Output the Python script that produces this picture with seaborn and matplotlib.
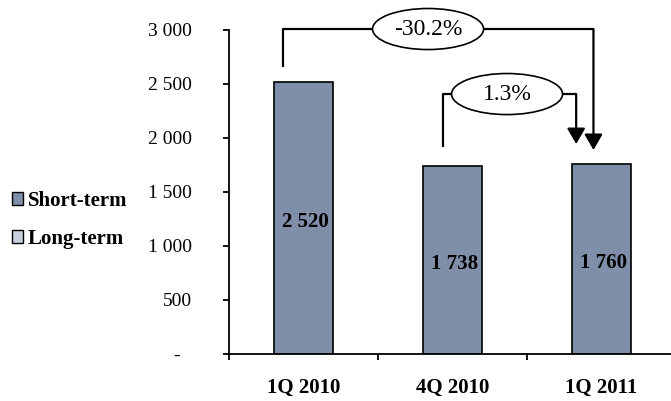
import matplotlib
matplotlib.use("Agg")
import matplotlib.pyplot as plt
import matplotlib.transforms as mtransforms
from matplotlib.patches import Ellipse, Patch
import seaborn as sns
import pandas as pd

# Data
quarters = ["1Q 2010", "4Q 2010", "1Q 2011"]
short_term = [2520, 1738, 1760]
series_names = ["Short-term", "Long-term"]
y_ticks = [0, 500, 1000, 1500, 2000, 2500, 3000]

short_color = "#7f8fa9"
long_color = "#c8cfdd"

sns.set_style("white")
plt.rcParams["font.family"] = ["Liberation Serif", "DejaVu Serif"]
plt.rcParams["text.color"] = "black"
plt.rcParams["xtick.color"] = "black"
plt.rcParams["ytick.color"] = "black"
plt.rcParams["xtick.labelcolor"] = "black"
plt.rcParams["ytick.labelcolor"] = "black"


def fmt(v):
    return "-" if v == 0 else f"{v:,}".replace(",", " ")


df = pd.DataFrame({"quarter": quarters, "value": short_term})

fig = plt.figure(figsize=(6.71, 4.01), dpi=100)
ax = fig.add_axes([229 / 671, 47 / 401, 447 / 671, 324 / 401])

sns.barplot(data=df, x="quarter", y="value", color=short_color, saturation=1,
            edgecolor="black", linewidth=1.2, width=0.4, ax=ax, zorder=2)

ax.set_xlim(-0.5, 2.5)
ax.set_ylim(0, 3000)
ax.set_xlabel("")
ax.set_ylabel("")

for side in ("top", "right"):
    ax.spines[side].set_visible(False)
for side in ("left", "bottom"):
    ax.spines[side].set_color("black")
    ax.spines[side].set_linewidth(1.3)

# y axis
ax.set_yticks(y_ticks)
ax.set_yticklabels([fmt(v) for v in y_ticks], fontsize=14, color="black")
ax.tick_params(axis="y", left=True, direction="out", length=4, width=1.3,
               color="black", pad=23)
zero_lbl = ax.get_yticklabels()[0]
zero_lbl.set_transform(zero_lbl.get_transform() +
                       mtransforms.ScaledTranslation(-12 / 100, 0, fig.dpi_scale_trans))

# x axis: labels at categories, ticks at category boundaries
ax.set_xticks(range(len(quarters)))
ax.set_xticklabels(quarters, fontsize=15, fontweight="bold", color="black")
ax.tick_params(axis="x", which="major", length=0, pad=17)
ax.set_xticks([-0.5, 0.5, 1.5, 2.5], minor=True)
ax.tick_params(axis="x", which="minor", bottom=True, direction="out", length=4,
               width=1.3, color="black")

# value labels inside bars
for i, v in enumerate(short_term):
    ax.annotate(fmt(v), xy=(i, v / 2), xytext=(1.5, -3), textcoords="offset points",
                ha="center", va="center", fontsize=15, fontweight="bold",
                color="black", zorder=3)


def change_bracket(i_from, i_to, dx_from, dx_to, y_start, y_line, y_tip, label,
                   ell_x):
    x0 = i_from + dx_from
    x1 = i_to + dx_to
    ax.plot([x0, x0, x1], [y_start, y_line, y_line], color="black", lw=1.6,
            clip_on=False, zorder=4, solid_capstyle="butt")
    ax.annotate("", xy=(x1, y_tip), xytext=(x1, y_line),
                arrowprops=dict(arrowstyle="-|>,head_length=0.95,head_width=0.55",
                                lw=1.6, color="black", shrinkA=0, shrinkB=0,
                                mutation_scale=10),
                annotation_clip=False, zorder=4)
    ell = Ellipse((ell_x, y_line), width=0.745, height=380, facecolor="white",
                  edgecolor="black", lw=1.2, clip_on=False, zorder=5)
    ax.add_patch(ell)
    ax.text(ell_x, y_line, label, ha="center", va="center", fontsize=17,
            color="black", zorder=6, clip_on=False)


pct_year = (short_term[2] - short_term[0]) / short_term[0] * 100
pct_quarter = (short_term[2] - short_term[1]) / short_term[1] * 100

change_bracket(0, 2, -0.14, -0.054, short_term[0] + 137, 3009, short_term[2] + 129,
               f"{pct_year:.1f}%", 0.836)
change_bracket(1, 2, -0.067, -0.17, short_term[1] + 179, 2407, short_term[2] + 184,
               f"{pct_quarter:.1f}%", 1.366)

# legend
handles = [Patch(facecolor=short_color, edgecolor="black", lw=1.0),
           Patch(facecolor=long_color, edgecolor="black", lw=1.0)]
leg = fig.legend(handles, series_names, loc="center left",
                 bbox_to_anchor=(12 / 671, (401 - 220) / 401), frameon=False,
                 prop={"weight": "bold", "size": 15}, handlelength=0.55,
                 handleheight=0.55, handletextpad=0.2, labelspacing=0.85,
                 borderpad=0, borderaxespad=0)
for t in leg.get_texts():
    t.set_color("black")

fig.savefig("out.png", dpi=100)
